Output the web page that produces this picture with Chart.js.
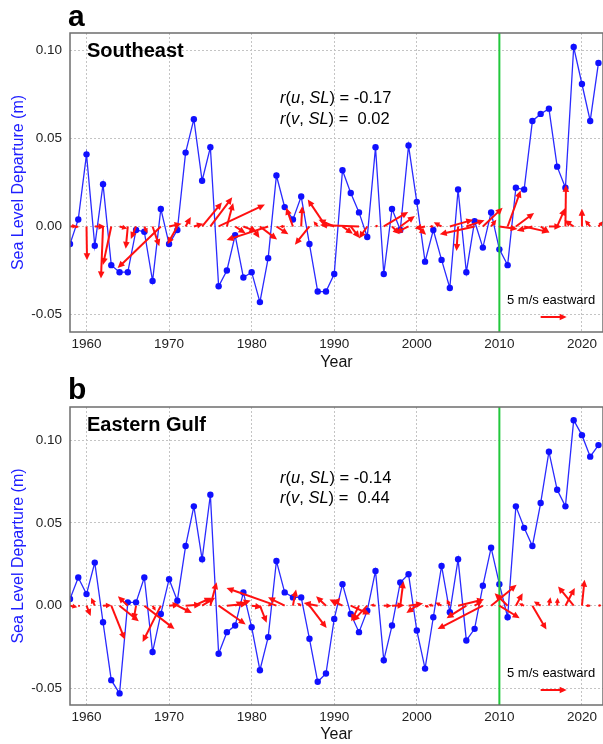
<!DOCTYPE html>
<html><head><meta charset="utf-8">
<script src="https://cdn.jsdelivr.net/npm/chart.js@4.4.1/dist/chart.umd.min.js"></script>
<style>html,body{margin:0;padding:0;background:#fff;overflow:hidden;}canvas{display:block;}</style>
</head><body>
<canvas id="ca" width="603" height="372"></canvas>
<canvas id="cb" width="603" height="372"></canvas>
<script>
// ---------------- DATA ----------------
const years = [1958,1959,1960,1961,1962,1963,1964,1965,1966,1967,1968,1969,1970,1971,1972,1973,1974,1975,1976,1977,1978,1979,1980,1981,1982,1983,1984,1985,1986,1987,1988,1989,1990,1991,1992,1993,1994,1995,1996,1997,1998,1999,2000,2001,2002,2003,2004,2005,2006,2007,2008,2009,2010,2011,2012,2013,2014,2015,2016,2017,2018,2019,2020,2021,2022];

// Panel a: Southeast
const seSeaLevel = [-0.010,0.004,0.041,-0.011,0.024,-0.022,-0.026,-0.026,-0.002,-0.003,-0.031,0.010,-0.010,-0.002,0.042,0.061,0.026,0.045,-0.034,-0.025,-0.005,-0.029,-0.026,-0.043,-0.018,0.029,0.011,0.004,0.017,-0.010,-0.037,-0.037,-0.027,0.032,0.019,0.008,-0.006,0.045,-0.027,0.010,-0.002,0.046,0.014,-0.020,-0.002,-0.019,-0.035,0.021,-0.026,0.003,-0.012,0.008,-0.013,-0.022,0.022,0.021,0.060,0.064,0.067,0.034,0.022,0.102,0.081,0.060,0.093];
const seWindU = [1.3,-0.8,0.1,2.0,-0.4,-1.6,1.5,-0.4,-1.0,0.6,1.3,-8.3,2.4,-1.9,1.0,1.8,3.8,4.2,8.9,1.2,2.0,2.5,1.5,3.3,-8.0,2.3,-1.0,-1.3,0.2,-2.8,-0.8,-3.5,-3.0,2.0,1.7,-7.5,-1.6,0.5,4.7,1.5,2.8,-2.5,1.8,-2.0,-0.8,-1.5,4.5,-0.3,3.5,-6.7,3.8,1.0,3.5,2.5,3.5,4.8,-3.0,1.7,2.4,1.5,0.1,-1.8,0.0,-1.0,0.9];
const seWindV = [0.1,-0.2,-6.5,0.0,-10.0,-7.4,-0.4,-4.3,-2.4,-1.3,-3.8,-8.0,0.5,-3.4,1.8,0.5,4.6,5.6,4.2,4.5,-1.3,-1.0,-2.2,-2.5,-2.6,-1.5,0.0,3.6,3.9,-3.5,1.0,5.2,1.3,-1.4,-2.2,0.3,-2.3,0.2,2.8,-1.5,2.0,-1.2,-1.6,-0.4,0.0,0.8,1.3,-4.7,1.2,-1.5,3.6,1.3,-0.5,6.9,2.6,-1.1,-0.8,-1.2,0.0,3.5,8.0,1.2,3.4,1.2,1.0];
const seCorrU = "-0.17";
const seCorrV = " 0.02";

// Panel b: Eastern Gulf
const egSeaLevel = [0.004,0.017,0.007,0.026,-0.010,-0.045,-0.053,0.002,0.002,0.017,-0.028,-0.005,0.016,0.003,0.036,0.060,0.028,0.067,-0.029,-0.016,-0.012,0.008,-0.013,-0.039,-0.019,0.027,0.008,0.005,0.005,-0.020,-0.046,-0.041,-0.008,0.013,-0.005,-0.016,-0.003,0.021,-0.033,-0.012,0.014,0.019,-0.015,-0.038,-0.007,0.024,-0.004,0.028,-0.021,-0.014,0.012,0.035,0.013,-0.007,0.060,0.047,0.036,0.062,0.093,0.070,0.060,0.112,0.103,0.090,0.097];
const egWindU = [1.4,0.3,0.8,-0.7,1.6,2.6,3.7,-1.9,-0.5,5.8,0.6,-3.5,2.0,2.8,3.0,3.4,2.5,1.2,5.2,4.0,3.0,-1.5,2.0,1.3,0.8,-9.6,-3.2,0.6,-0.8,3.3,-2.7,-1.9,1.1,-2.5,3.7,-1.5,-2.8,-1.0,1.5,2.4,0.6,2.8,-2.0,0.8,-1.0,-1.2,-0.6,5.0,-3.8,1.5,-8.7,4.9,3.9,-2.5,1.3,-1.0,2.7,-1.3,0.3,0.1,1.8,-3.0,0.5,-1.0,0.6];
const egWindV = [-0.3,-0.1,-2.0,1.5,0.1,-6.5,-3.0,1.8,-2.8,-4.5,-1.0,-7.0,0.2,-1.4,0.2,1.5,1.5,4.5,-3.6,0.4,1.0,0.8,-0.3,-3.3,0.3,3.4,1.6,3.1,0.5,-4.3,0.5,1.8,1.5,1.2,-1.7,-3.0,-3.0,0.2,0.0,0.1,4.7,0.4,-1.4,-0.3,0.2,0.6,1.2,1.2,-2.4,0.8,-4.5,4.0,-2.4,2.4,2.4,0.4,-4.6,0.8,1.6,1.5,3.4,3.7,5.0,0.0,0.1];
const egCorrU = "-0.14";
const egCorrV = " 0.44";

const xTicks = [1960,1970,1980,1990,2000,2010,2020];
const seYTicks = [-0.05,0.00,0.05,0.10];
const egYTicks = [-0.05,0.00,0.05,0.10];
const markerYear = 2010;
const refArrowYear = 2015;
const refArrowSpeed = 5; // m/s eastward

// ---------------- STYLE ----------------
const FONT = "'Liberation Sans', Arial, Helvetica, sans-serif";
const ARROW_YEARS_PER_MS = 0.63; // quiver scale in x-axis units per m/s
const RED = '#ff1010';

function drawArrow(ctx, x0, y0, x1, y1) {
  const dx = x1 - x0, dy = y1 - y0, L = Math.hypot(dx, dy);
  if (L < 0.6) return;
  const ux = dx / L, uy = dy / L;
  const hl = Math.min(7, L * 0.65), hw = Math.min(3.3, hl * 0.5);
  const bx = x1 - ux * hl, by = y1 - uy * hl;
  ctx.beginPath(); ctx.moveTo(x0, y0); ctx.lineTo(bx + ux * 1, by + uy * 1); ctx.stroke();
  ctx.beginPath(); ctx.moveTo(x1, y1);
  ctx.lineTo(bx - uy * hw, by + ux * hw);
  ctx.lineTo(bx + uy * hw, by - ux * hw);
  ctx.closePath(); ctx.fill();
}

const decorPlugin = {
  id: 'decor',
  afterDatasetsDraw(chart) {
    const o = chart.options.plugins.decor;
    const {ctx, chartArea: ca, scales: {x, y}} = chart;
    ctx.save();
    ctx.beginPath(); ctx.rect(ca.left, ca.top, ca.right - ca.left, ca.bottom - ca.top); ctx.clip();
    // green marker line
    const gx = x.getPixelForValue(markerYear);
    ctx.strokeStyle = '#22c83c'; ctx.lineWidth = 2;
    ctx.beginPath(); ctx.moveTo(gx, ca.top); ctx.lineTo(gx, ca.bottom); ctx.stroke();
    // quiver arrows
    const pxPerYear = x.getPixelForValue(years[1]) - x.getPixelForValue(years[0]);
    ctx.strokeStyle = RED; ctx.fillStyle = RED; ctx.lineWidth = 2; ctx.lineCap = 'butt';
    const y0 = y.getPixelForValue(0);
    for (let i = 0; i < years.length; i++) {
      const x0 = x.getPixelForValue(years[i]);
      const x1 = x.getPixelForValue(years[i] + o.u[i] * ARROW_YEARS_PER_MS);
      const y1 = y0 - o.v[i] * ARROW_YEARS_PER_MS * pxPerYear;
      drawArrow(ctx, x0, y0, x1, y1);
    }
    // reference arrow
    const ry = ca.bottom - 15;
    const rx0 = x.getPixelForValue(refArrowYear);
    const rx1 = x.getPixelForValue(refArrowYear + refArrowSpeed * ARROW_YEARS_PER_MS);
    drawArrow(ctx, rx0, ry, rx1, ry);
    ctx.restore();
  },
  afterDraw(chart) {
    const o = chart.options.plugins.decor;
    const {ctx, chartArea: ca} = chart;
    ctx.save();
    // frame
    ctx.strokeStyle = '#6e6e6e'; ctx.lineWidth = 1.5;
    ctx.strokeRect(ca.left, ca.top, ca.right - ca.left, ca.bottom - ca.top);
    ctx.fillStyle = '#000';
    ctx.textBaseline = 'alphabetic'; ctx.textAlign = 'left';
    // panel letter
    ctx.font = "bold 30px " + FONT;
    ctx.fillText(o.letter, 68, o.letterY);
    // region name
    ctx.font = "bold 20px " + FONT;
    ctx.fillText(o.region, 87, ca.top + o.regionDY);
    // correlation text
    const lines = [[['r','i'],['(','n'],['u','i'],[', ','n'],['SL','i'],[')','n'],[' = ' + o.corrU,'n']],
                   [['r','i'],['(','n'],['v','i'],[', ','n'],['SL','i'],[')','n'],[' = ' + o.corrV,'n']]];
    lines.forEach((segs, li) => {
      let cx = 280;
      const by = ca.top + o.corrDY[li];
      segs.forEach(([t, s]) => {
        ctx.font = (s === 'i' ? 'italic ' : '') + "16.5px " + FONT;
        ctx.fillText(t, cx, by);
        cx += ctx.measureText(t).width;
      });
    });
    // reference label
    ctx.font = "13px " + FONT;
    ctx.fillText(refArrowSpeed + ' m/s eastward', 507, ca.bottom - 28);
    ctx.restore();
  }
};

function makeChart(id, sl, u, v, yTicks, cfg) {
  return new Chart(document.getElementById(id), {
    type: 'scatter',
    data: {
      datasets: [{
        data: years.map((yr, i) => ({x: yr, y: sl[i]})),
        showLine: true,
        borderColor: '#2a2aff',
        backgroundColor: '#1010ff',
        borderWidth: 1.3,
        pointRadius: 3.2,
        pointBorderWidth: 0,
        pointHoverRadius: 3.2
      }]
    },
    options: {
      responsive: false,
      animation: false,
      events: [],
      layout: {autoPadding: false, padding: {top: cfg.top, right: 0, bottom: 0, left: 0}},
      plugins: {
        legend: {display: false},
        tooltip: {enabled: false},
        decor: {u, v, letter: cfg.letter, letterY: cfg.letterY, region: cfg.region, regionDY: cfg.regionDY,
                corrU: cfg.corrU, corrV: cfg.corrV, corrDY: cfg.corrDY}
      },
      scales: {
        x: {
          type: 'linear', min: 1958, max: 2022.55,
          afterBuildTicks: s => { s.ticks = xTicks.map(t => ({value: t})); },
          afterFit: s => { s.height = cfg.xAxisH; },
          grid: {color: '#c4c4c4', lineWidth: 1, drawTicks: false},
          border: {display: false, dash: [2, 2]},
          ticks: {font: {size: 13.5, family: FONT}, color: '#222', padding: 4, maxRotation: 0,
                  callback: val => String(val)},
          title: {display: true, text: 'Year', font: {size: 16, family: FONT}, color: '#111', padding: {top: 0, bottom: 0}}
        },
        y: {
          type: 'linear', min: -0.06, max: cfg.yMax,
          afterBuildTicks: s => { s.ticks = yTicks.map(t => ({value: t})); },
          afterFit: s => { s.width = 70; },
          grid: {color: '#c4c4c4', lineWidth: 1, drawTicks: false},
          border: {display: false, dash: [2, 2]},
          ticks: {font: {size: 13.5, family: FONT}, color: '#222', padding: 8,
                  callback: val => Number(val).toFixed(2)},
          title: {display: true, text: 'Sea Level Departure (m)', font: {size: 16, family: FONT}, color: '#2020ff', padding: {top: 8.5, bottom: 0}}
        }
      }
    },
    plugins: [decorPlugin]
  });
}

makeChart('ca', seSeaLevel, seWindU, seWindV, seYTicks,
  {top: 33, xAxisH: 40, yMax: 0.11, letter: 'a', letterY: 26, region: 'Southeast', regionDY: 24,
   corrU: seCorrU, corrV: seCorrV, corrDY: [69.5, 91]});
makeChart('cb', egSeaLevel, egWindU, egWindV, egYTicks,
  {top: 35, xAxisH: 39, yMax: 0.12, letter: 'b', letterY: 27, region: 'Eastern Gulf', regionDY: 24,
   corrU: egCorrU, corrV: egCorrV, corrDY: [75.5, 96]});
</script>
</body></html>
